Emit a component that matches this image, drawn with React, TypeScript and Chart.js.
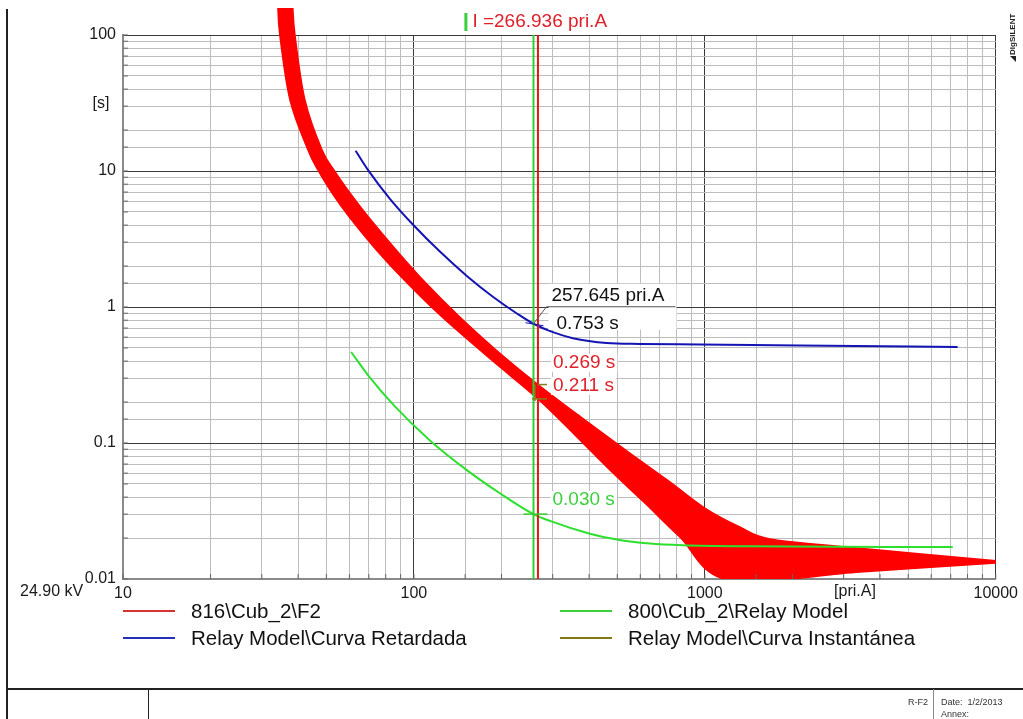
import { useEffect, useRef } from 'react';
import { Chart, registerables } from 'chart.js';

Chart.register(...registerables);

const FONT = '"Liberation Sans", Arial, Helvetica, sans-serif';

// 816\Cub_2\F2 fuse: total clearing edge (upper) and minimum melting edge (lower)
const fuseClearAmps = [38.27, 39.0, 42.2, 48.3, 53.35, 60.27, 69.76, 86.86, 109.9, 143.8, 191.6, 266.9, 386.9, 552, 758, 1000, 1318, 1673, 3076, 10000];
const fuseClearSecs = [170, 100, 33.3, 14.3, 10, 6.89, 4.59, 2.63, 1.5, 0.844, 0.483, 0.269, 0.1476, 0.0844, 0.0517, 0.0332, 0.0241, 0.0197, 0.0172, 0.0136];
const fuseMeltAmps = [34.04, 34.6, 37.5, 43.23, 46.97, 52.3, 59.98, 74.3, 94.8, 125.0, 184.9, 266.9, 357.5, 471.6, 622, 820, 1209, 3412, 10000];
const fuseMeltSecs = [170, 100, 33.3, 14.3, 10, 6.89, 4.59, 2.63, 1.5, 0.844, 0.4076, 0.211, 0.1146, 0.0633, 0.0362, 0.0204, 0.0098, 0.01126, 0.0131];

// Relay Model\Curva Retardada
const delayedAmps = [63.05, 69.5, 82.7, 99.2, 122.8, 152, 186.8, 225.9, 257.6, 300.4, 351.9, 460, 598, 961, 2118, 7396];
const delayedSecs = [14.1, 10.2, 6.25, 4.04, 2.555, 1.693, 1.19, 0.896, 0.753, 0.653, 0.59, 0.5435, 0.535, 0.53, 0.521, 0.508];

// 800\Cub_2\Relay Model
const upstreamAmps = [60.8, 70.6, 86.0, 113.5, 154.5, 197.5, 257.6, 293.4, 402.5, 498.5, 647, 840, 1428, 7112];
const upstreamSecs = [0.467, 0.302, 0.1858, 0.1045, 0.0616, 0.0427, 0.03, 0.02674, 0.02153, 0.01949, 0.01821, 0.01769, 0.01739, 0.01718];

// Relay Model\Curva Instantánea (no points inside the plotted window)
const instantAmps: number[] = [];
const instantSecs: number[] = [];

// cursor currents [pri.A]: green cursor, red cursor
const cursorAmps = [257.645, 266.936];
// readouts [s]: delayed curve, fuse clearing, fuse melting, upstream relay
const readoutSecs = [0.753, 0.269, 0.211, 0.03];

const xTickLabels = ['10', '100', '1000', '10000'];
const yTickLabels = ['0.01', '0.1', '1', '10', '100'];

const legendNames = ['816\\Cub_2\\F2', 'Relay Model\\Curva Retardada', '800\\Cub_2\\Relay Model', 'Relay Model\\Curva Instantánea'];
const legendColors = ['#d63232', '#2430b8', '#3ccf3c', '#7f7a14'];

const pairs = (xs: number[], ys: number[]) => xs.map((x, i) => ({ x, y: ys[i] }));

const decade = (v: number) => {
  const e = Math.log10(v);
  const r = Math.round(e);
  return Math.abs(e - r) < 1e-6 ? r : null;
};

const line = (ctx: CanvasRenderingContext2D, x1: number, y1: number, x2: number, y2: number) => {
  ctx.beginPath();
  ctx.moveTo(x1, y1);
  ctx.lineTo(x2, y2);
  ctx.stroke();
};

// Catmull-Rom path through pixel points
const spline = (ctx: CanvasRenderingContext2D, p: { x: number; y: number }[], start: boolean) => {
  if (start) ctx.moveTo(p[0].x, p[0].y);
  else ctx.lineTo(p[0].x, p[0].y);
  for (let i = 0; i < p.length - 1; i++) {
    const p0 = p[i - 1] || p[i];
    const p1 = p[i];
    const p2 = p[i + 1];
    const p3 = p[i + 2] || p[i + 1];
    ctx.bezierCurveTo(
      p1.x + (p2.x - p0.x) / 6, p1.y + (p2.y - p0.y) / 6,
      p2.x - (p3.x - p1.x) / 6, p2.y - (p3.y - p1.y) / 6,
      p2.x, p2.y,
    );
  }
};

const boxedText = (ctx: CanvasRenderingContext2D, text: string, x: number, y: number, color: string) => {
  const w = ctx.measureText(text).width;
  ctx.fillStyle = '#ffffff';
  ctx.fillRect(x - 2, y - 9, w + 4, 18);
  ctx.fillStyle = color;
  ctx.fillText(text, x, y);
};

const overlay = {
  id: 'overlay',
  beforeDatasetsDraw(chart: any) {
    const { ctx, chartArea: a } = chart;
    const pts = chart.getDatasetMeta(0).data.map((p: any) => ({ x: p.x, y: p.y }));
    const upper = pts.slice(0, fuseClearAmps.length);
    const lower = pts.slice(fuseClearAmps.length);
    ctx.save();
    ctx.beginPath();
    ctx.rect(a.left, 8, a.right - a.left, a.bottom - 8);
    ctx.clip();
    ctx.beginPath();
    spline(ctx, upper, true);
    spline(ctx, lower, false);
    ctx.closePath();
    ctx.fillStyle = '#ff0000';
    ctx.fill();
    ctx.strokeStyle = '#ff0000';
    ctx.lineWidth = 1.5;
    ctx.stroke();
    ctx.restore();
  },
  afterDatasetsDraw(chart: any) {
    const { ctx, chartArea: a, scales } = chart;
    const xs = scales.x;
    const ys = scales.y;
    const xg = xs.getPixelForValue(cursorAmps[0]);
    const xr = xs.getPixelForValue(cursorAmps[1]);
    ctx.save();

    // cursor lines
    ctx.lineWidth = 2;
    ctx.strokeStyle = '#2fcf2f';
    line(ctx, xg, a.top, xg, a.bottom);
    ctx.strokeStyle = '#e8141e';
    line(ctx, xr, a.top, xr, a.bottom);

    ctx.font = `19px ${FONT}`;
    ctx.textBaseline = 'middle';
    ctx.textAlign = 'left';

    // delayed curve readout with leader
    const yb = ys.getPixelForValue(readoutSecs[0]);
    ctx.fillStyle = '#ffffff';
    ctx.fillRect(xg + 15, yb - 40, 128, 46);
    ctx.strokeStyle = '#555555';
    ctx.lineWidth = 1;
    ctx.beginPath();
    ctx.moveTo(xg, yb);
    ctx.lineTo(xg + 13, yb - 17);
    ctx.lineTo(xg + 142, yb - 17);
    ctx.stroke();
    ctx.strokeStyle = '#1010b0';
    line(ctx, xg - 8, yb - 1, xg + 10, yb + 2);
    ctx.fillStyle = '#111111';
    ctx.fillText(`${cursorAmps[0].toFixed(3)} pri.A`, xg + 18, yb - 28);
    ctx.fillText(`${readoutSecs[0].toFixed(3)} s`, xg + 23, yb);

    // fuse readouts
    const yc = ys.getPixelForValue(readoutSecs[1]);
    const ym = ys.getPixelForValue(readoutSecs[2]);
    ctx.strokeStyle = '#8a7a18';
    ctx.lineWidth = 1.5;
    line(ctx, xr, yc, xr + 9, yc);
    line(ctx, xr - 6, ym, xr + 9, ym);
    line(ctx, xr - 3, yc, xr - 3, ym + 2);
    boxedText(ctx, `${readoutSecs[2].toFixed(3)} s`, xr + 15, ym - 13, '#e0202a');
    boxedText(ctx, `${readoutSecs[1].toFixed(3)} s`, xr + 15, ym - 36, '#e0202a');

    // upstream relay readout
    const yu = ys.getPixelForValue(readoutSecs[3]);
    ctx.strokeStyle = '#2fcf2f';
    ctx.lineWidth = 1.5;
    line(ctx, xg - 10, yu, xg + 14, yu);
    boxedText(ctx, `${readoutSecs[3].toFixed(3)} s`, xg + 19, yu - 14, '#3ccf3c');

    ctx.restore();
  },
  afterDraw(chart: any) {
    const { ctx, chartArea: a, scales } = chart;
    const xs = scales.x;
    const ys = scales.y;
    const xg = xs.getPixelForValue(cursorAmps[0]);
    const xr = xs.getPixelForValue(cursorAmps[1]);
    ctx.save();

    // inward tick marks
    ctx.strokeStyle = '#666666';
    ctx.lineWidth = 1;
    xs.ticks.forEach((t: any) => {
      const p = xs.getPixelForValue(t.value);
      line(ctx, p, a.bottom, p, a.bottom - 5);
    });
    ys.ticks.forEach((t: any) => {
      const p = ys.getPixelForValue(t.value);
      line(ctx, a.left, p, a.left + 5, p);
    });

    ctx.font = `16px ${FONT}`;
    ctx.fillStyle = '#1a1a1a';
    ctx.textBaseline = 'middle';
    ctx.textAlign = 'center';
    ctx.fillText('[s]', 101, 104);
    ctx.fillText('[pri.A]', 855, 592);
    ctx.textAlign = 'left';
    ctx.fillText('24.90 kV', 20, 592);

    // cursor title
    ctx.font = `19px ${FONT}`;
    const title = `I =${cursorAmps[1].toFixed(3)} pri.A`;
    const tw = ctx.measureText(title).width;
    const tx = (xg + xr) / 2 - tw / 2 + 4;
    ctx.fillStyle = '#e0202a';
    ctx.fillText(title, tx, 22);
    ctx.fillStyle = '#3ccf3c';
    ctx.fillRect(tx - 8, 13, 3, 18);

    // vendor mark
    ctx.translate(1013, 62);
    ctx.rotate(-Math.PI / 2);
    ctx.fillStyle = '#222222';
    ctx.beginPath();
    ctx.moveTo(0, 3);
    ctx.lineTo(6, 3);
    ctx.lineTo(6, -3);
    ctx.closePath();
    ctx.fill();
    ctx.font = `bold 8px ${FONT}`;
    ctx.textAlign = 'left';
    ctx.fillText('DIgSILENT', 7, 0);
    ctx.restore();
  },
};

const gridColor = (c: any) => (c.tick && decade(c.tick.value) !== null ? '#3a3a3a' : '#bdbdbd');

export default function App() {
  const ref = useRef<HTMLCanvasElement | null>(null);

  useEffect(() => {
    if (!ref.current) return;
    Chart.defaults.font.family = FONT;
    const band = [...pairs(fuseClearAmps, fuseClearSecs), ...pairs(fuseMeltAmps, fuseMeltSecs).reverse()];
    const chart = new Chart(ref.current, {
      type: 'line',
      data: {
        datasets: [
          { label: legendNames[0], data: band, showLine: false, pointRadius: 0, borderColor: 'rgba(0,0,0,0)' },
          { label: legendNames[1], data: pairs(delayedAmps, delayedSecs), borderColor: '#1414b4', borderWidth: 2, pointRadius: 0, fill: false, cubicInterpolationMode: 'monotone' },
          { label: legendNames[2], data: pairs(upstreamAmps, upstreamSecs), borderColor: '#2ee02e', borderWidth: 2, pointRadius: 0, fill: false, cubicInterpolationMode: 'monotone' },
          { label: legendNames[3], data: pairs(instantAmps, instantSecs), borderColor: legendColors[3], borderWidth: 2, pointRadius: 0, fill: false },
        ],
      },
      options: {
        responsive: false,
        devicePixelRatio: 1,
        animation: false,
        events: [],
        layout: { padding: { left: 63, top: 35, right: 27, bottom: 110 } },
        plugins: { legend: { display: false }, tooltip: { enabled: false }, title: { display: false } },
        scales: {
          x: {
            type: 'logarithmic',
            min: 10,
            max: 10000,
            afterFit: (s: any) => { s.height = 30; },
            border: { color: '#8a8a8a', width: 2 },
            grid: { color: gridColor, lineWidth: 1, drawTicks: false },
            ticks: {
              autoSkip: false,
              maxRotation: 0,
              padding: 5,
              color: '#1a1a1a',
              font: { size: 16 },
              callback: (v: any) => {
                const d = decade(Number(v));
                return d === null ? '' : xTickLabels[d - 1];
              },
            },
          },
          y: {
            type: 'logarithmic',
            min: 0.01,
            max: 100,
            afterFit: (s: any) => { s.width = 60; },
            border: { color: '#8a8a8a', width: 2 },
            grid: { color: gridColor, lineWidth: 1, drawTicks: false },
            ticks: {
              autoSkip: false,
              padding: 7,
              color: '#1a1a1a',
              font: { size: 16 },
              callback: (v: any) => {
                const d = decade(Number(v));
                return d === null ? '' : yTickLabels[d + 2];
              },
            },
          },
        },
      },
      plugins: [overlay],
    });
    return () => chart.destroy();
  }, []);

  const legendRows = [611, 638];
  const legendCols = [123, 560];

  return (
    <div style={{ position: 'fixed', left: 0, top: 0, width: 1023, height: 719, background: '#ffffff', overflow: 'hidden', fontFamily: FONT }}>
      <canvas ref={ref} width={1023} height={719} style={{ position: 'absolute', left: 0, top: 0, display: 'block' }} />
      {legendNames.map((name, i) => {
        const col = legendCols[Math.floor(i / 2)];
        const row = legendRows[i % 2];
        return (
          <div key={name}>
            <div style={{ position: 'absolute', left: col, top: row - 1, width: 52, height: 2, background: legendColors[i] }} />
            <div style={{ position: 'absolute', left: col + 68, top: row - 12, fontSize: 20.5, lineHeight: '24px', color: '#111', whiteSpace: 'nowrap' }}>{name}</div>
          </div>
        );
      })}
      {/* drawing frame */}
      <div style={{ position: 'absolute', left: 6, top: 9, width: 2, height: 710, background: '#222' }} />
      <div style={{ position: 'absolute', left: 6, top: 688, width: 1017, height: 2, background: '#222' }} />
      <div style={{ position: 'absolute', left: 148, top: 689, width: 1, height: 30, background: '#222' }} />
      <div style={{ position: 'absolute', left: 933, top: 689, width: 1, height: 30, background: '#888' }} />
      <div style={{ position: 'absolute', left: 900, top: 697, width: 28, fontSize: 9, textAlign: 'right', color: '#333' }}>R-F2</div>
      <div style={{ position: 'absolute', left: 941, top: 697, fontSize: 9, color: '#333', whiteSpace: 'pre' }}>Date:  1/2/2013</div>
      <div style={{ position: 'absolute', left: 941, top: 709, fontSize: 9, color: '#333' }}>Annex:</div>
    </div>
  );
}
